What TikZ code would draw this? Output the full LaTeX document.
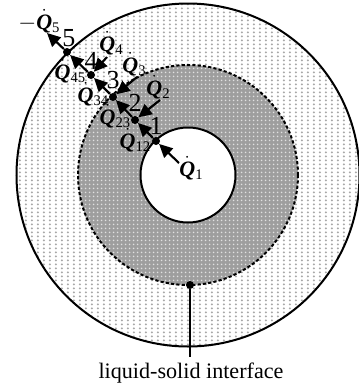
\documentclass[tikz,border=0pt]{standalone}
\usepackage{amsmath}
\usepackage{fontspec}
\setmainfont{Liberation Serif}
\usetikzlibrary{arrows.meta,patterns}
\pgfdeclarepatternformonly{outerdots}{\pgfqpoint{0pt}{0pt}}{\pgfqpoint{4.425pt}{3pt}}{\pgfqpoint{4.425pt}{3pt}}{
  \pgfpathellipse{\pgfqpoint{2.2pt}{1.5pt}}{\pgfqpoint{0.86pt}{0pt}}{\pgfqpoint{0pt}{1.0pt}}
  \pgfusepath{fill}}
\pgfdeclarepatternformonly{innerdots}{\pgfqpoint{0pt}{0pt}}{\pgfqpoint{3pt}{3pt}}{\pgfqpoint{3pt}{3pt}}{
  \pgfpathcircle{\pgfqpoint{1.5pt}{1.5pt}}{0.8pt}
  \pgfusepath{fill}}
\tikzset{
  px/.style={x=0.75pt,y=-0.75pt},
  wall/.style={line width=1.5pt},
  iface/.style={line width=1.5pt,dash pattern=on 2.4pt off 1.6pt},
  flow/.style={line width=1.6pt,-{Triangle[length=10pt,width=9.5pt]}},
  pt/.style={circle,fill=black,inner sep=0pt,minimum size=6pt},
  num/.style={font=\fontsize{19.5}{20}\selectfont,inner sep=0pt},
  qlab/.style={font=\fontsize{16.5}{17}\selectfont,inner sep=0pt},
  lab/.style={font=\fontsize{16.6}{18}\selectfont,inner sep=0pt}
}
\newcommand{\Qd}[1]{$\dot{\hbox{\bfseries\itshape Q}}$\raisebox{-0.35ex}{\fontsize{11}{11}\selectfont #1}}
\begin{document}
\begin{tikzpicture}[px]
\useasboundingbox (0,0) rectangle (358,390);
\fill[white] (0,0) rectangle (358,390);
\fill[pattern=outerdots,pattern color=black!34] (188,175) circle (171.5);
\fill[black!38] (188,175) circle (110);
\fill[pattern=innerdots,pattern color=white!88!black] (188,175) circle (110);
\fill[white] (188,175) circle (47.5);
\draw[wall] (188,175) circle (171.5);
\draw[iface] (188,175) circle (110);
\draw[wall] (188,175) circle (47.5);
\node[pt] (p1) at (156,141) {};
\node[pt] (p2) at (135,120) {};
\node[pt] (p3) at (113,97) {};
\node[pt] (p4) at (91,75) {};
\node[pt] (p5) at (67,52) {};
\node[pt] (pi) at (190,285) {};
\coordinate (q1s) at (179,163);
\coordinate (q2s) at (160,100);
\coordinate (q3s) at (137,77);
\coordinate (q4s) at (107,57);
\coordinate (q5e) at (47,33);
\coordinate (ib) at (190,357);
\draw[flow] (q1s) -- (p1);
\draw[flow] (p1) -- (p2);
\draw[flow] (p2) -- (p3);
\draw[flow] (p3) -- (p4);
\draw[flow] (p4) -- (p5);
\draw[flow] (p5) -- (q5e);
\draw[flow] (q2s) -- (p2);
\draw[flow] (q3s) -- (p3);
\draw[flow] (q4s) -- (p4);
\draw[line width=1.5pt] (pi) -- (ib);
\node[num] (n1) at (156,126) {1};
\node[num] (n2) at (135,103) {2};
\node[num] (n3) at (113,80) {3};
\node[num] (n4) at (91,61) {4};
\node[num] (n5) at (69,38) {5};
\node[qlab] (q1) at (191,168) {\Qd{1}};
\node[qlab] (q2) at (158,87) {\Qd{2}};
\node[qlab] (q3) at (134,64) {\Qd{3}};
\node[qlab] (q4) at (111,43) {\Qd{4}};
\node[qlab] (q5) at (39,21) {$-$\Qd{5}};
\node[qlab] (q12) at (135,140) {\Qd{12}};
\node[qlab] (q23) at (115,116) {\Qd{23}};
\node[qlab] (q34) at (93,94) {\Qd{34}};
\node[qlab] (q45) at (70,71) {\Qd{45}};
\node[lab] (it) at (191,373) {liquid-solid interface};
\end{tikzpicture}
\end{document}
